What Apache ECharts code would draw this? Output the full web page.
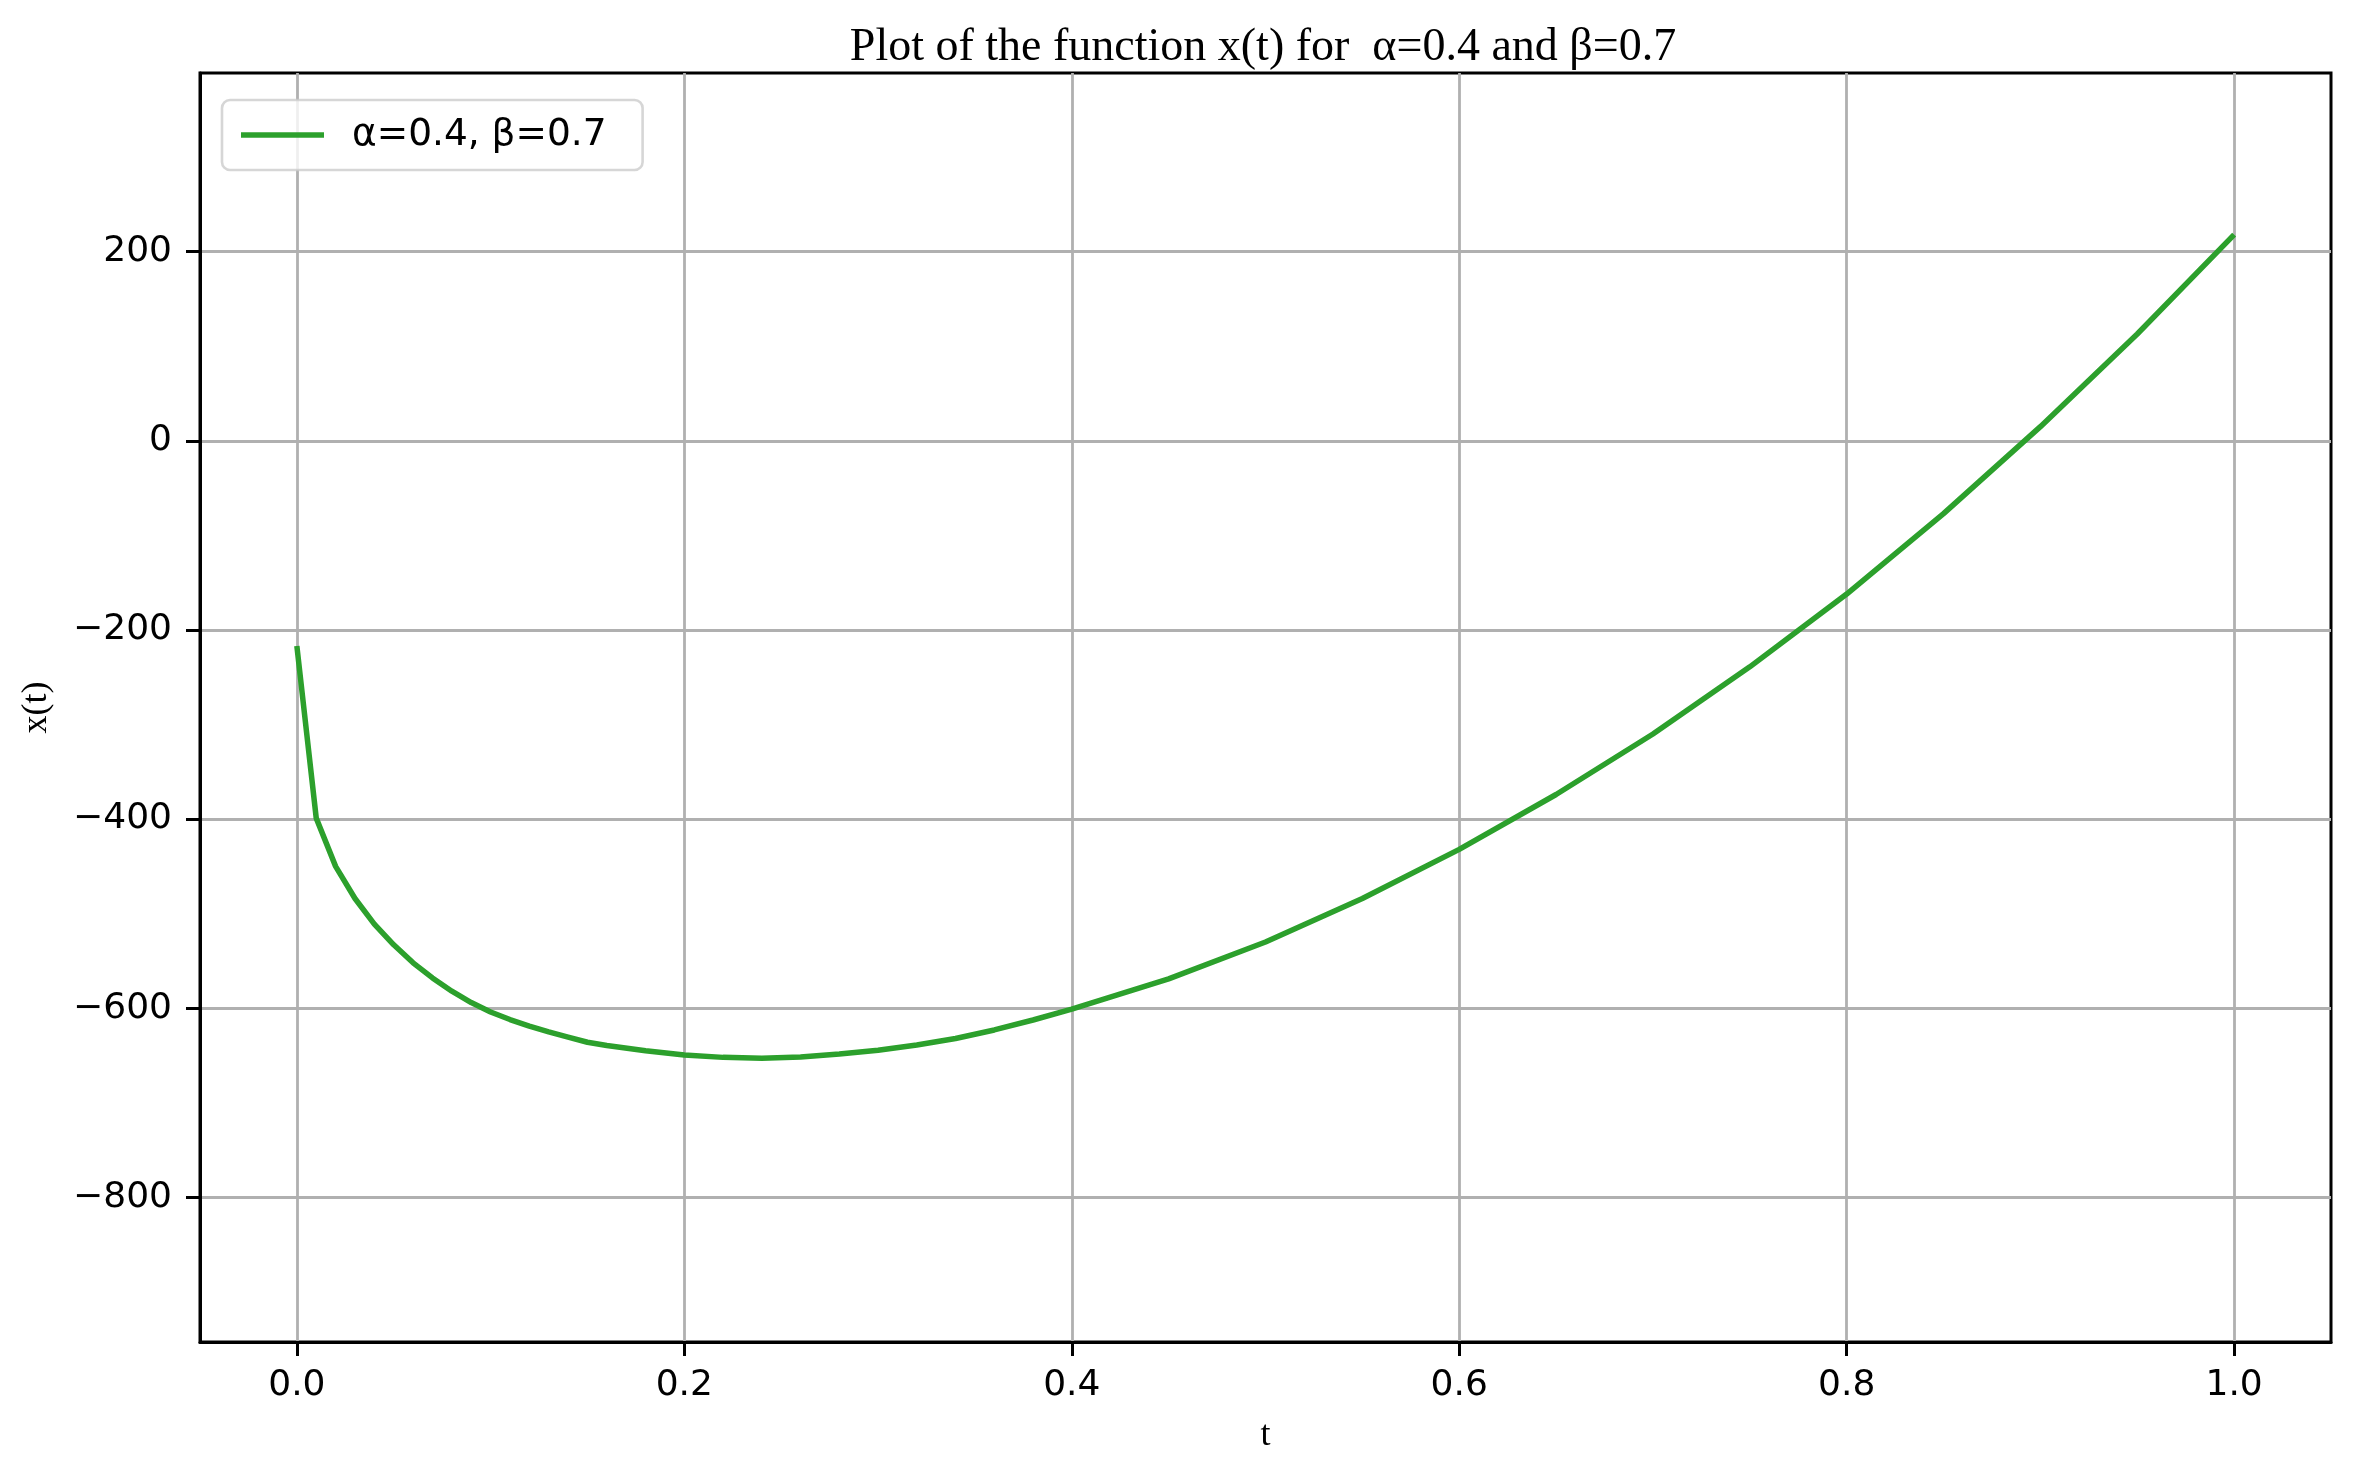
<!DOCTYPE html>
<html>
<head>
<meta charset="utf-8">
<style>
html,body{margin:0;padding:0;background:#fff;}
#chart{width:2355px;height:1472px;}
</style>
<script src="https://cdn.jsdelivr.net/npm/echarts@6/dist/echarts.min.js"></script>
</head>
<body>
<div id="chart"></div>
<script>
const titleText = 'Plot of the function x(t) for  \u03b1=0.4 and \u03b2=0.7';
const seriesName = '\u03b1=0.4, \u03b2=0.7';
const tValues = [0, 0.01, 0.02, 0.03, 0.04, 0.05, 0.06, 0.07, 0.08, 0.09, 0.10,
  0.11, 0.12, 0.13, 0.14, 0.15, 0.16, 0.18, 0.20, 0.22, 0.24, 0.26, 0.28, 0.30,
  0.32, 0.34, 0.36, 0.38, 0.40, 0.45, 0.50, 0.55, 0.60, 0.65, 0.70, 0.75, 0.80,
  0.85, 0.90, 0.95, 1.00];
const xValues = [-217, -399, -450, -484, -511, -533, -552, -568, -582, -594, -604,
  -612, -619, -625, -630.5, -636, -639.5, -645, -649.5, -652, -653, -651.5, -648.5, -644.5,
  -639, -632, -623, -612.5, -601, -569, -530, -484, -432, -374, -310, -239, -162,
  -77, 15, 113, 218];
const xTicks = [0, 0.2, 0.4, 0.6, 0.8, 1.0];
const yTicks = [-800, -600, -400, -200, 0, 200];

const chart = echarts.init(document.getElementById('chart'));
const tickFont = {fontFamily: 'DejaVu Sans', fontSize: 36, color: '#000'};
chart.setOption({
  backgroundColor: '#fff',
  animation: false,
  title: {
    text: titleText,
    left: 1263,
    textAlign: 'center',
    top: 25,
    padding: 0,
    textStyle: {fontFamily: 'Liberation Serif', fontSize: 46, fontWeight: 'normal', color: '#000'}
  },
  legend: {
    left: 222,
    top: 100,
    padding: [16, 36, 16, 19],
    backgroundColor: 'rgba(255,255,255,0.8)',
    borderColor: 'rgba(204,204,204,0.8)',
    borderWidth: 2.6,
    borderRadius: 8,
    icon: 'rect',
    itemWidth: 83,
    itemHeight: 5.5,
    textStyle: {fontFamily: 'DejaVu Sans', fontSize: 37.5, color: '#000', lineHeight: 36, padding: [0, 0, 0, 23]},
    data: [seriesName]
  },
  grid: {
    left: 200, right: 24, top: 73, bottom: 130,
    show: true, borderColor: '#000', borderWidth: 3, backgroundColor: 'transparent'
  },
  xAxis: {
    type: 'value',
    min: -0.05, max: 1.05,
    name: 't',
    nameLocation: 'middle',
    nameGap: 76,
    nameTextStyle: {fontFamily: 'Liberation Serif', fontSize: 36, color: '#000'},
    axisLine: {show: true, onZero: false, lineStyle: {color: '#000', width: 3}},
    axisTick: {show: true, inside: false, length: 14, lineStyle: {color: '#000', width: 3}, customValues: xTicks},
    axisLabel: Object.assign({margin: 26, customValues: xTicks, formatter: v => v.toFixed(1)}, tickFont),
    splitLine: {show: true, lineStyle: {color: '#b0b0b0', width: 2.8}}
  },
  yAxis: {
    type: 'value',
    min: -953, max: 389,
    name: 'x(t)',
    nameLocation: 'middle',
    nameGap: 145,
    nameTextStyle: {fontFamily: 'Liberation Serif', fontSize: 36, color: '#000'},
    axisLine: {show: true, onZero: false, lineStyle: {color: '#000', width: 3}},
    axisTick: {show: true, inside: false, length: 14, lineStyle: {color: '#000', width: 3}, customValues: yTicks},
    axisLabel: Object.assign({margin: 28, customValues: yTicks, formatter: v => String(v).replace('-', '\u2212')}, tickFont),
    splitLine: {show: true, lineStyle: {color: '#b0b0b0', width: 2.8}}
  },
  series: [{
    name: seriesName,
    type: 'line',
    data: tValues.map((t, i) => [t, xValues[i]]),
    showSymbol: false,
    smooth: false,
    lineStyle: {color: '#2ca02c', width: 5.5},
    itemStyle: {color: '#2ca02c'},
    z: 3
  }]
});
</script>
</body>
</html>
